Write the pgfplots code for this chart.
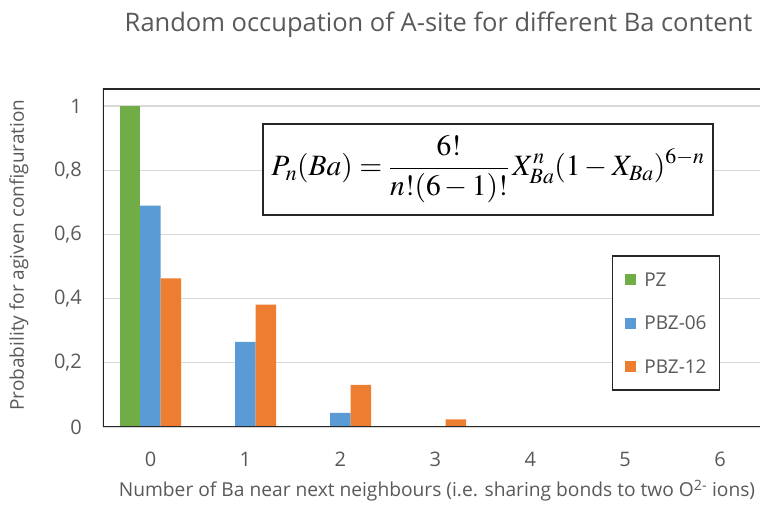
\documentclass[border=0pt]{standalone}
\usepackage{mathptmx}
\usepackage{fontspec}
\setmainfont{Open Sans}
\usepackage{pgfplots}
\pgfplotsset{compat=1.18}

\definecolor{pzgreen}{HTML}{70AD47}
\definecolor{pbzblue}{HTML}{5B9BD5}
\definecolor{pbzorange}{HTML}{ED7D31}
\definecolor{textgrey}{HTML}{595959}
\definecolor{gridgrey}{HTML}{D9D9D9}

\begin{document}
\begin{tikzpicture}[x=1pt,y=1pt]
\path[use as bounding box] (0,0) rectangle (760,510);

\begin{axis}[
  at={(103pt,83pt)}, anchor=south west,
  scale only axis, width=657pt, height=338pt,
  xmin=-0.5, xmax=6.42, ymin=0, ymax=1.053,
  xtick={0,1,2,3,4,5,6},
  ytick={0,0.2,0.4,0.6,0.8,1},
  major tick length=0pt,
  /pgf/number format/assume math mode=true,
  /pgf/number format/use comma,
  ticklabel style={font=\fontsize{20}{24}\selectfont, text=textgrey},
  yticklabel style={inner sep=0pt, anchor=east, xshift=-21pt},
  xticklabel style={inner sep=0pt, anchor=north, yshift=-25pt},
  ymajorgrids, grid style={line width=1.2pt, gridgrey},
  axis line style={draw=none},
  ybar=0pt, bar width=20.5pt,
  legend cell align=left,
  legend image code/.code={\fill[#1] (0pt,-5.5pt) rectangle (11pt,5.5pt);},
  legend style={at={(rel axis cs:0.774,0.509)}, anchor=north west,
    draw=black!85, line width=1.6pt, fill=white,
    font=\fontsize{19}{22}\selectfont, text=textgrey,
    inner xsep=13pt, inner ysep=17pt, row sep=30pt,
    nodes={inner sep=0pt, text height=13.5pt, text depth=0pt},
    /tikz/every odd column/.append style={column sep=8pt}},
]
\addplot[draw=none, fill=pzgreen] coordinates {(0,1)};
\addplot[draw=none, fill=pbzblue] coordinates {(0,0.69) (1,0.265) (2,0.044)};
\addplot[draw=none, fill=pbzorange] coordinates {(0,0.463) (1,0.381) (2,0.131) (3,0.024)};
\legend{PZ,PBZ-06,PBZ-12}

% plot-area frame (open on the right side)
\draw[line width=1.6pt, black!85] (rel axis cs:1,1) -- (rel axis cs:0,1) -- (rel axis cs:0,0) -- (rel axis cs:1,0);
\end{axis}

% formula box
\node[draw=black!85, line width=1.6pt, fill=white, minimum width=450pt, minimum height=91pt,
      font=\fontsize{29.5}{34}\selectfont] at (488,340.5)
  {$\displaystyle P_n(Ba)=\frac{6!}{n!(6-1)!}\,X_{Ba}^{n}(1-X_{Ba})^{6-n}$};

% title and axis labels
\node[anchor=base, text=textgrey, font=\fontsize{25.5}{30}\selectfont] at (438.5,478)
  {Random occupation of A-site for different Ba content};
\node[rotate=90, text=textgrey, font=\fontsize{19}{23}\selectfont] at (19,255)
  {Probability for agiven configuration};
\node[anchor=base, text=textgrey, font=\fontsize{19.2}{23}\selectfont] at (437,13)
  {Number of Ba near next neighbours (i.e. sharing bonds to two O\textsuperscript{2-} ions)};
\end{tikzpicture}
\end{document}
